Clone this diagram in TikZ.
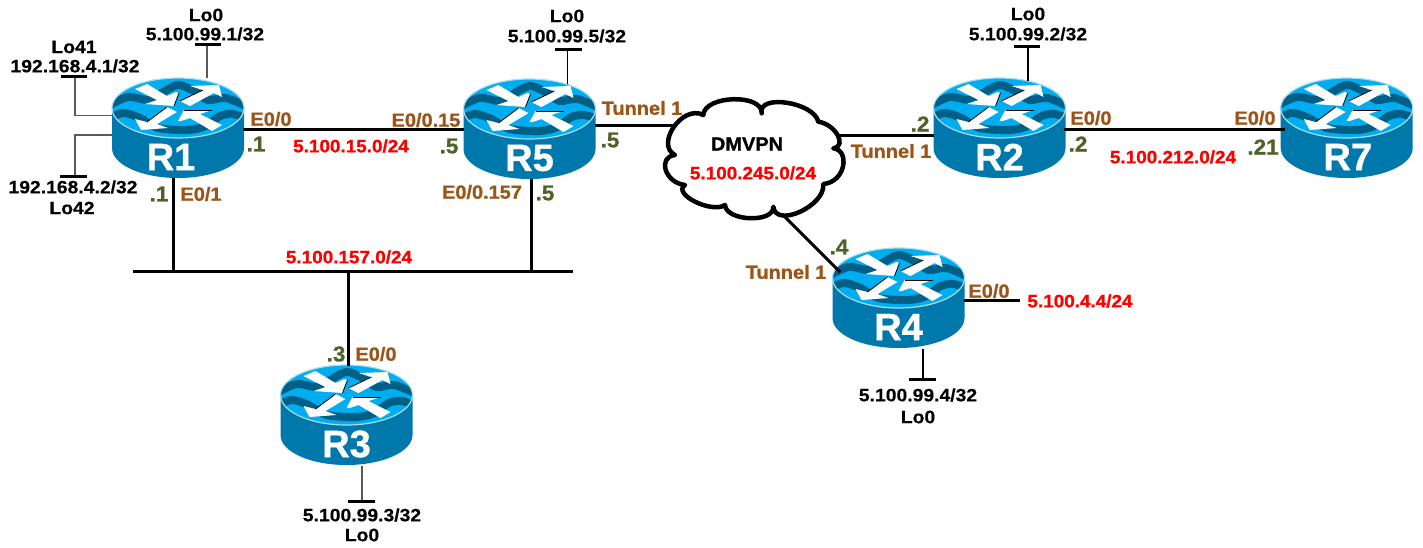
\documentclass[tikz,border=0pt]{standalone}
\usepackage{fontspec}
\setmainfont{Liberation Sans}
\newfontfamily\lblfont[FakeStretch=1.08,FakeBold=0.35]{Liberation Sans Bold}
\newfontfamily\heavyfont[FakeStretch=1.05,FakeBold=1.0]{Liberation Sans Bold}
\newfontfamily\routerfont[FakeBold=1.0]{Liberation Sans Bold}
\definecolor{rtop}{HTML}{00AEEF}
\definecolor{rside}{HTML}{0078AB}
\definecolor{rwave}{HTML}{005F87}
\definecolor{rrim}{HTML}{A8DDF2}
\definecolor{brownlab}{HTML}{9C5518}
\definecolor{greenlab}{HTML}{4F6228}
\definecolor{redlab}{HTML}{FF0000}
\tikzset{
  blk/.style={font=\lblfont\fontsize{17.9}{18}\selectfont,text=black,inner sep=0pt},
  dmv/.style={font=\heavyfont\fontsize{19}{19}\selectfont,text=black,inner sep=0pt},
  brn/.style={font=\heavyfont\fontsize{19}{19}\selectfont,text=brownlab,inner sep=0pt},
  grn/.style={font=\heavyfont\fontsize{21.5}{22}\selectfont,text=greenlab,inner sep=0pt},
  rd/.style={font=\heavyfont\fontsize{18}{18}\selectfont,text=redlab,inner sep=0pt},
  rname/.style={font=\routerfont\fontsize{38}{38}\selectfont,text=white,inner sep=0pt},
  routerbox/.style={minimum width=132pt,minimum height=100pt,inner sep=0pt},
  link/.style={draw=black,line width=3pt},
  stub/.style={draw=black!65,line width=1.6pt},
  stubk/.style={draw=black,line width=1.4pt},
  barline/.style={draw=black,line width=3pt},
  arrowedge/.style={draw=black,line width=0.8pt},
}
\newcommand{\topellipse}{(-66,0) .. controls (-66,-16.6) and (-36.5,-30) .. (0,-30) .. controls (36.5,-30) and (66,-16.6) .. (66,0) .. controls (66,16.6) and (36.5,30) .. (0,30) .. controls (-36.5,30) and (-66,16.6) .. (-66,0) -- cycle}
\newcommand{\router}[5]{%
  \begin{scope}[shift={(#3,#4)}]
    \fill[rside] (-66,0) -- (-66,40) .. controls (-66,56.6) and (-36.5,70) .. (0,70) .. controls (36.5,70) and (66,56.6) .. (66,40) -- (66,0) -- cycle;
    \begin{scope}
      \clip \topellipse;
      \fill[rtop] (-70,-35) rectangle (70,35);
      \draw[rwave,line width=8pt] plot[smooth] coordinates {(-70,-2) (-50,-11) (-30,-8) (-18,-14) (0,-23) (18,-16) (30,-8) (48,-10) (70,-1)};
      \draw[rwave,line width=8pt] plot[smooth] coordinates {(-70,11) (-55,5) (-38,10) (-20,20) (10,22) (28,18) (42,8) (55,6) (70,11)};
    \end{scope}
    \draw[rrim,line width=1.2pt] \topellipse;
    \fill[white] (-43,-19) -- (-31,-24) -- (-11,-12) -- (-2,-16) -- (1,-15) -- (-4,-2) -- (-33,-4) -- (-21,-8) -- cycle;
    \fill[white] (44,-11) -- (41,-23) -- (12,-22) -- (25,-18) -- (2,-7) -- (12,-2) -- (36,-15) -- cycle;
    \fill[white] (-11,-1) -- (-1,4) -- (-21,16) -- (-10,20) -- (-37,22) -- (-43,11) -- (-31,14) -- cycle;
    \fill[white] (0,13) -- (6,2) -- (34,2) -- (22,6) -- (44,17) -- (34,23) -- (12,10) -- (3,13) -- cycle;
    \draw[arrowedge] (2,-7) -- (25,-18);
    \draw[arrowedge] (-31,14) -- (-11,-1);
    \draw[arrowedge] (1,-15) -- (-4,-2);
    \draw[arrowedge] (6,2) -- (34,2);
    \node[rname] (#1name) at (#5,49) {#2};
    \node[routerbox] (#1) at (0,20) {};
  \end{scope}}
\begin{document}
\begin{tikzpicture}[x=1pt,y=-1pt]
\useasboundingbox (0,0) rectangle (1423,547);
\fill[white] (0,0) rectangle (1423,547);
\router{R1}{R1}{178}{108}{-7}
\router{R5}{R5}{529.5}{109}{0}
\router{R2}{R2}{999.5}{108}{0}
\router{R7}{R7}{1346.7}{108}{1}
\router{R4}{R4}{898.5}{278}{0}
\router{R3}{R3}{346.5}{395}{0}
% connector end points
\coordinate (busL) at (133,271.5);
\coordinate (busR) at (573,271.5);
\coordinate (busA) at (173,271.5);
\coordinate (busB) at (531,271.5);
\coordinate (busC) at (348.5,271.5);
\coordinate (r1s) at (173,178);
\coordinate (r5s) at (531,179);
\coordinate (r3n) at (348.5,366);
\coordinate (r1e) at (243,129.5);
\coordinate (r5w) at (464,129.5);
\coordinate (r5e) at (595,125.5);
\coordinate (cw) at (680,125.5);
\coordinate (ce) at (830,135);
\coordinate (r2w) at (934,135);
\coordinate (r2e) at (1064,129.3);
\coordinate (r7w) at (1285,129.3);
\coordinate (cs) at (778,210);
\coordinate (r4n) at (840,272);
\coordinate (r4e) at (964,300.5);
\coordinate (r4x) at (1020,300.5);
% cloud
\node[minimum width=170pt,minimum height=110pt,inner sep=0pt] (cloud) at (755,160) {};
\draw[link] (r1e) -- (r5w);
\draw[link] (r1s) -- (busA);
\draw[link] (r5s) -- (busB);
\draw[link] (busC) -- (r3n);
\draw[link] (busL) -- (busR);
\draw[link] (r5e) -- (cw);
\draw[link] (ce) -- (r2w);
\draw[link] (r2e) -- (r7w);
\draw[link] (cs) -- (r4n);
\draw[link] (r4e) -- (r4x);
\draw[line width=4.5pt,fill=white,line join=round]
  (703.3,115) .. controls (704.4,95.1) and (762.8,93.4) .. (761.7,113.3)
  .. controls (757.3,93.6) and (813.9,102) .. (818.3,121.7)
  .. controls (835,124) and (848,146) .. (833.3,148.3)
  .. controls (850,150) and (846,182) .. (823.3,184)
  .. controls (825.6,205.9) and (775.6,228.6) .. (773.3,206.7)
  .. controls (774.4,223.2) and (726.1,221.5) .. (725,205)
  .. controls (711.7,213.9) and (671.7,193.9) .. (685,185)
  .. controls (665,183) and (657,157) .. (675,155)
  .. controls (655,145) and (682,104) .. (703.3,115) -- cycle;
% loopbacks
\coordinate (a1) at (207,78); \coordinate (a2) at (207,44);
\coordinate (a3) at (195,44); \coordinate (a4) at (221,44);
\draw[stub] (a1) -- (a2); \draw[barline] (a3) -- (a4);
\coordinate (b1) at (112,115.5); \coordinate (b2) at (75,115.5); \coordinate (b3) at (75,76);
\coordinate (b4) at (61,76); \coordinate (b5) at (87,76);
\draw[stub] (b1) -- (b2) -- (b3); \draw[barline] (b4) -- (b5);
\coordinate (c1) at (112,135); \coordinate (c2) at (75,135); \coordinate (c3) at (75,176);
\coordinate (c4) at (60,176); \coordinate (c5) at (87,176);
\draw[stub] (c1) -- (c2) -- (c3); \draw[barline] (c4) -- (c5);
\coordinate (d1) at (567.5,84); \coordinate (d2) at (567.5,49);
\coordinate (d3) at (555,49); \coordinate (d4) at (582,49);
\draw[stubk] (d1) -- (d2); \draw[barline] (d3) -- (d4);
\coordinate (e1) at (1028,81); \coordinate (e2) at (1028,46.5);
\coordinate (e3) at (1014,46.5); \coordinate (e4) at (1040,46.5);
\draw[stubk] (e1) -- (e2); \draw[barline] (e3) -- (e4);
\coordinate (f1) at (923,349); \coordinate (f2) at (923,379);
\coordinate (f3) at (909,379); \coordinate (f4) at (936,379);
\draw[stubk] (f1) -- (f2); \draw[barline] (f3) -- (f4);
\coordinate (g1) at (362,466); \coordinate (g2) at (362,501.5);
\coordinate (g3) at (348,501.5); \coordinate (g4) at (375,501.5);
\draw[stub] (g1) -- (g2); \draw[barline] (g3) -- (g4);
% labels
\node[blk] (t01) at (206,15) {Lo0};
\node[blk] (t02) at (205,34) {5.100.99.1/32};
\node[blk] (t03) at (74,47) {Lo41};
\node[blk] (t04) at (75,66) {192.168.4.1/32};
\node[blk] (t05) at (73,187) {192.168.4.2/32};
\node[blk] (t06) at (72,208) {Lo42};
\node[brn] (t07) at (271,119) {E0/0};
\node[grn] (t08) at (256,144) {.1};
\node[grn] (t09) at (159,194) {.1};
\node[brn] (t10) at (201,194) {E0/1};
\node[rd]  (t11) at (351,146) {5.100.15.0/24};
\node[brn] (t12) at (426,120) {E0/0.15};
\node[grn] (t13) at (449,146) {.5};
\node[brn] (t14) at (642,108) {Tunnel 1};
\node[grn] (t15) at (610,140) {.5};
\node[brn] (t16) at (482,192) {E0/0.157};
\node[grn] (t17) at (545,193) {.5};
\node[rd]  (t18) at (349,257) {5.100.157.0/24};
\node[blk] (t19) at (567,16) {Lo0};
\node[blk] (t20) at (567,36) {5.100.99.5/32};
\node[dmv] (t21) at (747,144) {DMVPN};
\node[rd]  (t22) at (753,173) {5.100.245.0/24};
\node[grn] (t23) at (920,124) {.2};
\node[brn] (t24) at (891,151) {Tunnel 1};
\node[blk] (t25) at (1028,14) {Lo0};
\node[blk] (t26) at (1028,34) {5.100.99.2/32};
\node[brn] (t27) at (1091,118) {E0/0};
\node[grn] (t28) at (1078,144) {.2};
\node[rd]  (t29) at (1173,157) {5.100.212.0/24};
\node[brn] (t30) at (1255,118) {E0/0};
\node[grn] (t31) at (1263,147) {.21};
\node[grn] (t32) at (839,247) {.4};
\node[brn] (t33) at (786,272) {Tunnel 1};
\node[brn] (t34) at (989,291) {E0/0};
\node[rd]  (t35) at (1080,301) {5.100.4.4/24};
\node[blk] (t36) at (918,395) {5.100.99.4/32};
\node[blk] (t37) at (918,417) {Lo0};
\node[grn] (t38) at (336,354) {.3};
\node[brn] (t39) at (376,354) {E0/0};
\node[blk] (t40) at (362,515) {5.100.99.3/32};
\node[blk] (t41) at (362,535) {Lo0};
\end{tikzpicture}
\end{document}
